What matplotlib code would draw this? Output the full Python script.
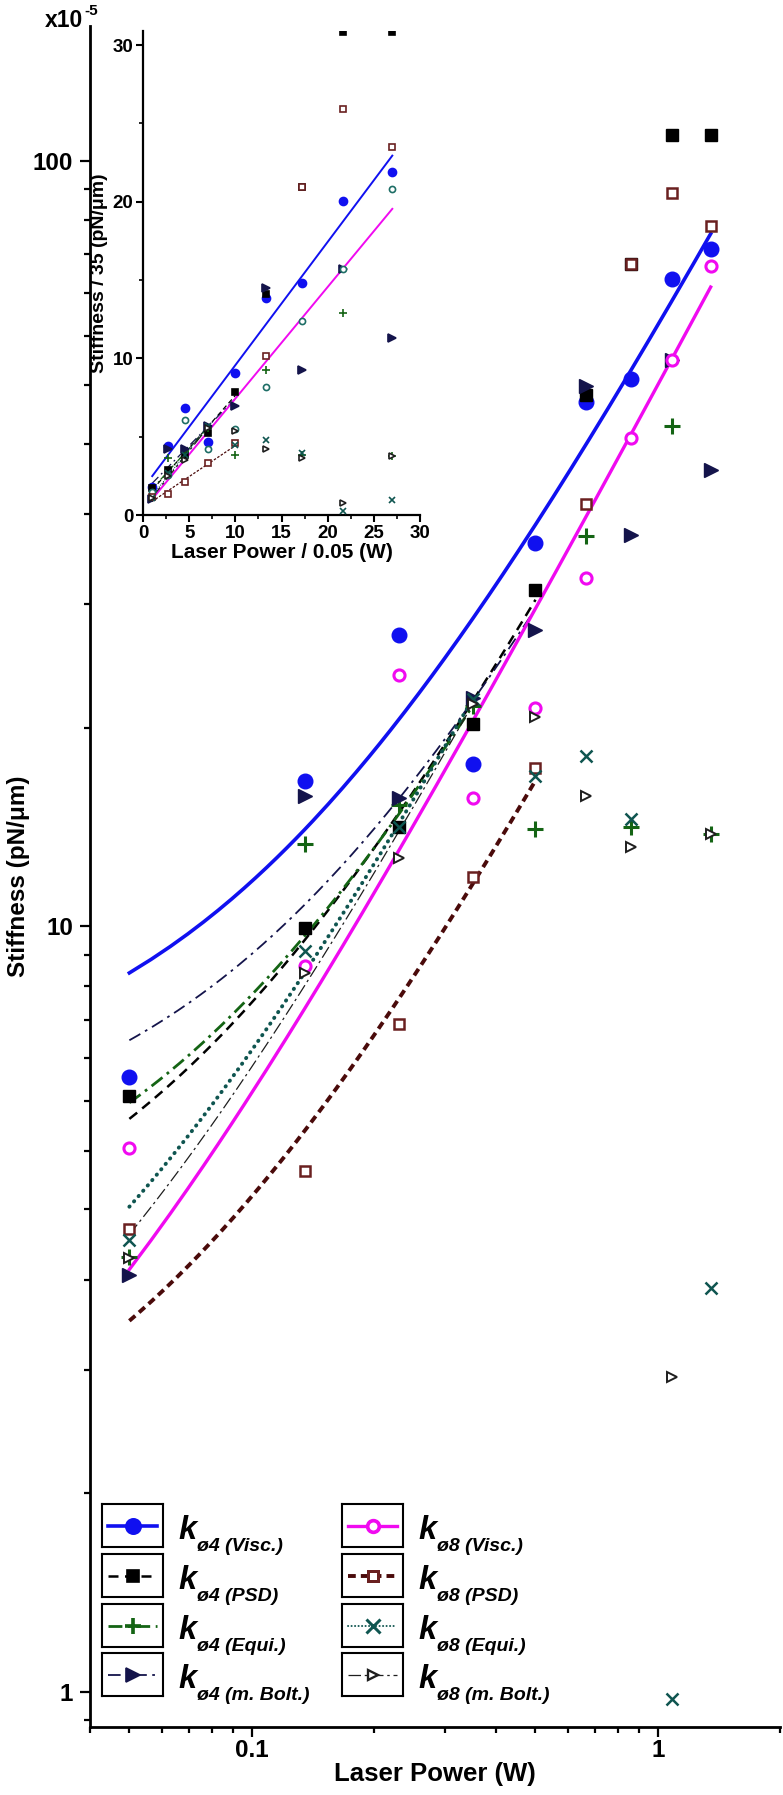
import numpy as np
import matplotlib
matplotlib.use("Agg")
from matplotlib import pyplot as plt
from matplotlib.ticker import FixedLocator, FixedFormatter, NullFormatter, LogLocator, MultipleLocator

plt.rcParams['font.family'] = ['Liberation Sans', 'DejaVu Sans']
plt.rcParams['font.weight'] = 'bold'
plt.rcParams['axes.labelweight'] = 'bold'

# Potencia del laser (W)
potencia = [0.05, 0.135, 0.23, 0.35, 0.5, 0.665, 0.86, 1.085, 1.35]

# Rigidez (pN/um) para la trampa de 4 um
k4_visc = [6.35, 15.5, 24.0, 16.3, 31.7, 48.4, 51.9, 70.1, 76.6]
k4_psd = [6.0, 9.95, 13.5, 18.4, 27.5, 49.4, 73.3, 108, 108]
k4_equi = [3.7, 12.8, 14.4, 19.4, 13.4, 32.4, 13.5, 45.1, 13.2]
k4_bolt = [3.5, 14.8, 14.7, 19.9, 24.4, 50.8, 32.5, 55.0, 39.5]

# Rigidez (pN/um) para la trampa de 8 um
k8_visc = [5.14, 8.87, 21.3, 14.7, 19.3, 28.5, 43.4, 55.0, 72.9]
k8_psd = [4.03, 4.79, 7.45, 11.6, 16.1, 35.6, 73.3, 90.8, 82.3]
k8_equi = [3.89, 9.3, 13.5, 19.8, 15.7, 16.7, 13.8, 0.98, 3.37]
k8_bolt = [3.69, 8.69, 12.3, 19.5, 18.8, 14.8, 12.7, 2.58, 13.2]

# Ajustes lineales k = a + b*P  ->  (a, b, P_max)
aj_k4_visc = (5.94, 55.08, 1.35)
aj_k4_psd = (3.26, 46.9, 0.5)
aj_k4_equi = (3.63, 45.07, 0.35)
aj_k4_bolt = (5.0, 42.0, 0.5)
aj_k8_visc = (1.07, 49.88, 1.35)
aj_k8_psd = (1.67, 27.67, 0.5)
aj_k8_equi = (1.72, 51.67, 0.35)
aj_k8_bolt = (1.37, 51.8, 0.35)

POTENCIA_REF = 0.05   # eje x del inset: Laser Power / 0.05
FACTOR_INSET = 3.5    # eje y del inset: Stiffness / 35

etiquetas = ['ø4 (Visc.)', 'ø4 (PSD)', 'ø4 (Equi.)', 'ø4 (m. Bolt.)',
             'ø8 (Visc.)', 'ø8 (PSD)', 'ø8 (Equi.)', 'ø8 (m. Bolt.)']
datos = [k4_visc, k4_psd, k4_equi, k4_bolt, k8_visc, k8_psd, k8_equi, k8_bolt]
ajustes = [aj_k4_visc, aj_k4_psd, aj_k4_equi, aj_k4_bolt,
           aj_k8_visc, aj_k8_psd, aj_k8_equi, aj_k8_bolt]

# estilos: color linea, estilo, ancho, extremo de trazo, marcador, relleno, borde, tamano
estilos = [
    dict(c='#1010F0', ls='-', lw=2.6, cap='butt', m='o', mfc='#1010F0', mec='#1010F0', ms=10.5, mew=1),
    dict(c='black', ls=(0, (4, 2.6)), lw=1.8, cap='butt', m='s', mfc='black', mec='black', ms=8.5, mew=1),
    dict(c='#146414', ls=(0, (5, 2, 1, 2)), lw=2.0, cap='butt', m='+', mfc='none', mec='#146414', ms=11, mew=2.2),
    dict(c='#14144B', ls=(0, (7, 3, 1.5, 3)), lw=1.3, cap='butt', m='>', mfc='#14144B', mec='#14144B', ms=10, mew=1),
    dict(c='#F00AF0', ls='-', lw=2.4, cap='butt', m='o', mfc='white', mec='#F00AF0', ms=8, mew=2.2),
    dict(c='#4A0A0A', ls=(0, (2, 1.3)), lw=2.8, cap='butt', m='s', mfc='white', mec='#6A2020', ms=7, mew=1.8),
    dict(c='#0F5550', ls=(0, (0.1, 1.7)), lw=2.8, cap='round', m='x', mfc='none', mec='#0F5550', ms=9, mew=1.8),
    dict(c='#1E1E1E', ls=(0, (10, 3, 2, 3)), lw=0.9, cap='butt', m='>', mfc='white', mec='#1E1E1E', ms=7.5, mew=1.4),
]

fig = plt.figure(figsize=(7.83, 17.95), dpi=100)
ax = fig.add_axes([90 / 783, 1 - 1727 / 1795, 690 / 783, 1701 / 1795])

for y, aj, e in zip(datos, ajustes, estilos):
    a, b, pmax = aj
    xx = np.linspace(potencia[0], pmax, 200)
    ax.plot(xx, a + b * xx, color=e['c'], ls=e['ls'], lw=e['lw'],
            dash_capstyle=e['cap'], zorder=2)
for y, e in zip(datos, estilos):
    ax.plot(potencia, y, ls='none', marker=e['m'], mfc=e['mfc'], mec=e['mec'],
            ms=e['ms'], mew=e['mew'], zorder=3)

ax.set_xscale('log')
ax.set_yscale('log')
ax.set_xlim(0.04, 2.0)
ax.set_ylim(0.9, 150)
for lado in ['top', 'right']:
    ax.spines[lado].set_visible(False)
for lado in ['left', 'bottom']:
    ax.spines[lado].set_linewidth(2.0)

ax.xaxis.set_major_locator(FixedLocator([0.1, 1]))
ax.xaxis.set_major_formatter(FixedFormatter(['0.1', '1']))
ax.xaxis.set_minor_locator(LogLocator(base=10, subs=np.arange(2, 10)))
ax.xaxis.set_minor_formatter(NullFormatter())
ax.yaxis.set_major_locator(FixedLocator([1, 10, 100]))
ax.yaxis.set_major_formatter(FixedFormatter(['1', '10', '100']))
# Origin pone las marcas menores equiespaciadas dentro de cada decada
menores_y = [d * (1 + 9 * k / 11) for d in (0.1, 1, 10, 100) for k in range(1, 11)]
ax.yaxis.set_minor_locator(FixedLocator(menores_y))
ax.yaxis.set_minor_formatter(NullFormatter())
ax.tick_params(which='major', length=7.2, width=1.6, labelsize=17.5)
ax.tick_params(which='minor', length=4.3, width=1.6)
ax.tick_params(axis='x', which='major', pad=1.5)
ax.tick_params(axis='y', which='major', pad=5)
ax.set_xlabel('Laser Power (W)', fontsize=18.5, labelpad=0)
ax.set_ylabel('Stiffness (pN/μm)', fontsize=17.5, labelpad=2)

fig.text(45 / 783, 1 - 27 / 1795, 'x10', fontsize=16.5, fontweight='bold', va='baseline')
fig.text(84 / 783, 1 - 15 / 1795, '-5', fontsize=11, fontweight='bold', va='baseline')

# ----- inset -----
axi = fig.add_axes([143 / 783, 1 - 515 / 1795, 277 / 783, 484 / 1795])
x_in = np.array(potencia) / POTENCIA_REF
for y, aj, e in zip(datos, ajustes, estilos):
    a, b, pmax = aj
    xx = np.linspace(potencia[0], pmax, 50)
    axi.plot(xx / POTENCIA_REF, (a + b * xx) / FACTOR_INSET, color=e['c'], ls=e['ls'],
             lw=1.4 if e['ls'] == '-' else 0.9, dash_capstyle=e['cap'], zorder=2)
for i, (y, e) in enumerate(zip(datos, estilos)):
    mec = '#1E6E66' if i == 4 else e['mec']
    axi.plot(x_in, np.array(y) / FACTOR_INSET, ls='none', marker=e['m'], mfc=e['mfc'],
             mec=mec, ms=e['ms'] * 0.55, mew=1.2, zorder=3)

axi.set_xlim(0, 30)
axi.set_ylim(0, 30.9)
for lado in ['top', 'right']:
    axi.spines[lado].set_visible(False)
for lado in ['left', 'bottom']:
    axi.spines[lado].set_linewidth(1.6)
axi.xaxis.set_major_locator(MultipleLocator(5))
axi.xaxis.set_minor_locator(MultipleLocator(2.5))
axi.yaxis.set_major_locator(MultipleLocator(10))
axi.yaxis.set_minor_locator(MultipleLocator(5))
axi.tick_params(which='major', length=5, width=1.5, labelsize=13.5, pad=2)
axi.tick_params(which='minor', length=3, width=1.2)
axi.set_xlabel('Laser Power / 0.05 (W)', fontsize=15, labelpad=1)
axi.set_ylabel('Stiffness / 35 (pN/μm)', fontsize=14, labelpad=3)

# ----- leyenda con un recuadro por muestra -----
columnas_x = [102, 342]
filas_y = [1504, 1554, 1604, 1653]
for i, (etq, e) in enumerate(zip(etiquetas, estilos)):
    x0 = columnas_x[i // 4]
    y0 = filas_y[i % 4]
    axl = fig.add_axes([x0 / 783, 1 - (y0 + 43) / 1795, 61 / 783, 43 / 1795])
    axl.set_xlim(0, 1)
    axl.set_ylim(0, 1)
    axl.set_xticks([])
    axl.set_yticks([])
    for sp in axl.spines.values():
        sp.set_linewidth(1.5)
    lw_leg = 1.4 if e['cap'] == 'round' else e['lw']
    axl.plot([0.1, 0.9], [0.5, 0.5], color=e['c'], ls=e['ls'], lw=lw_leg,
             dash_capstyle=e['cap'])
    axl.plot([0.5], [0.5], ls='none', marker=e['m'], mfc=e['mfc'], mec=e['mec'],
             ms=e['ms'] * 1.05, mew=e['mew'] * 1.2)
    fig.text((x0 + 76) / 783, 1 - (y0 + 35) / 1795, 'k', fontsize=23.5,
             fontweight='bold', fontstyle='italic', va='baseline')
    fig.text((x0 + 95) / 783, 1 - (y0 + 47) / 1795, etq, fontsize=14,
             fontweight='bold', fontstyle='italic', va='baseline')

fig.savefig('out.png', dpi=100)
